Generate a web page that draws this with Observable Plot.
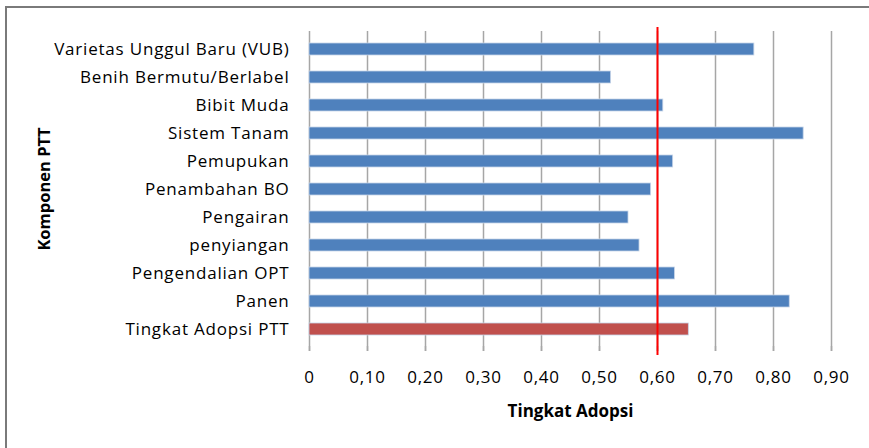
<!DOCTYPE html>
<html>
<head>
<meta charset="utf-8">
<script src="https://cdn.jsdelivr.net/npm/d3@7"></script>
<script src="https://cdn.jsdelivr.net/npm/@observablehq/plot@0.6"></script>
<style>
  html, body { margin: 0; padding: 0; background: #fff; }
  #wrap { position: relative; width: 869px; height: 448px; overflow: hidden; }
  #border { position: absolute; left: 5px; top: 6px; width: 900px; height: 500px;
            border-left: 2px solid #7a7a7a; border-top: 2px solid #7a7a7a; }
  #chart { position: absolute; left: 0; top: 0; }
  .ylab text { letter-spacing: 0.8px; }
  .xlab text { letter-spacing: 0.8px; }
</style>
</head>
<body>
<div id="wrap"><div id="border"></div><div id="chart"></div></div>
<script>
const categories = [
  "Varietas Unggul Baru (VUB)",
  "Benih Bermutu/Berlabel",
  "Bibit Muda",
  "Sistem Tanam",
  "Pemupukan",
  "Penambahan BO",
  "Pengairan",
  "penyiangan",
  "Pengendalian OPT",
  "Panen",
  "Tingkat Adopsi PTT"
];
const values = [0.767, 0.520, 0.610, 0.852, 0.627, 0.589, 0.550, 0.569, 0.630, 0.828, 0.654];
const barColors = ["#4f81bd","#4f81bd","#4f81bd","#4f81bd","#4f81bd","#4f81bd","#4f81bd","#4f81bd","#4f81bd","#4f81bd","#c0504d"];
const xTicks = [0, 0.1, 0.2, 0.3, 0.4, 0.5, 0.6, 0.7, 0.8, 0.9];
const xTickLabels = ["0","0,10","0,20","0,30","0,40","0,50","0,60","0,70","0,80","0,90"];
const threshold = [0.6];
const xTitle = "Tingkat Adopsi";
const yTitle = "Komponen PTT";

const data = categories.map((c, i) => ({category: c, value: values[i], color: barColors[i]}));

const font = "'Open Sans', sans-serif";
const chart = Plot.plot({
  width: 869,
  height: 448,
  marginLeft: 309,
  marginRight: 38,
  marginTop: 31,
  marginBottom: 102,
  style: {fontFamily: font, fontSize: "15px", color: "#000", background: "transparent"},
  x: {domain: [0, 0.9]},
  y: {domain: categories, paddingInner: 0.58, paddingOuter: 0.29},
  marks: [
    Plot.gridX(xTicks, {stroke: "#a6a6a6", strokeOpacity: 1, strokeWidth: 1.5, insetBottom: -5}),
    Plot.axisX({ticks: xTicks, tickFormat: (d, i) => xTickLabels[i], tickSize: 5, tickPadding: 19,
                stroke: "#a6a6a6", strokeWidth: 1.5, line: true, label: null, fontSize: 17, fill: "#000",
                className: "xlab"}),
    Plot.axisY({tickSize: 0, tickPadding: 20, label: null, fontSize: 17, className: "ylab"}),
    Plot.barX(data, {y: "category", x: "value", fill: "color", stroke: "#c6d4e8", strokeWidth: 0.8}),
    Plot.ruleX(threshold, {stroke: "#ff0000", strokeWidth: 2, insetTop: -4, insetBottom: -9}),
    Plot.text([xTitle], {frameAnchor: "bottom", dy: 70, fontWeight: "bold", fontSize: 17, fill: "#000"}),
    Plot.text([yTitle], {frameAnchor: "left", textAnchor: "middle", dx: -265, rotate: -90, fontWeight: "bold", fontSize: 16.5, fill: "#000"})
  ]
});
document.getElementById("chart").appendChild(chart);
</script>
</body>
</html>
